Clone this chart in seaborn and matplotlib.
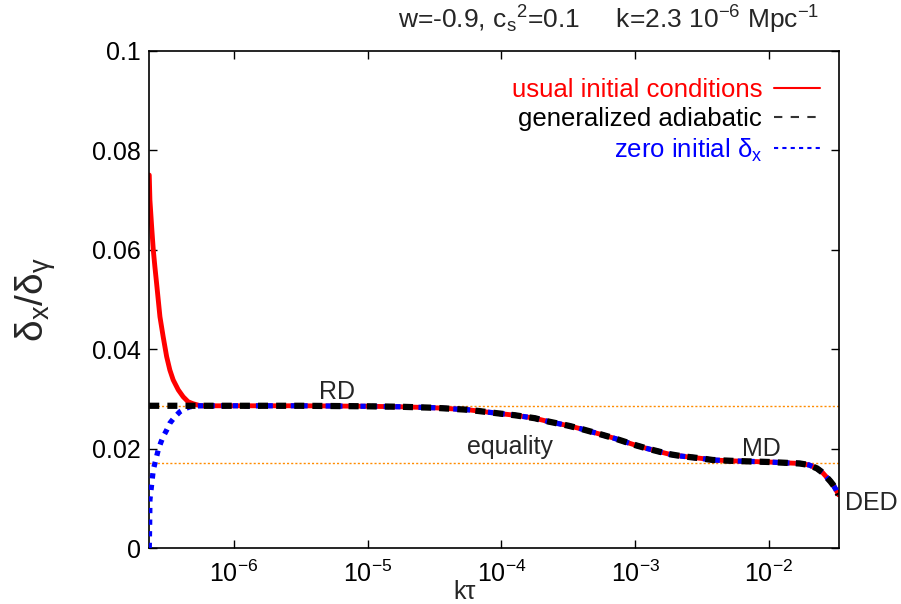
import numpy as np
import pandas as pd
import matplotlib
matplotlib.use("Agg")
import matplotlib.pyplot as plt
from matplotlib.lines import Line2D
import seaborn as sns

# values (x as log10 of k*tau)
main_logx = [-6.25, -6.0, -5.5, -5.0, -4.75, -4.5, -4.25, -4.0, -3.9, -3.75, -3.66,
             -3.5, -3.41, -3.25, -3.16, -3.0, -2.91, -2.75, -2.66, -2.5, -2.42, -2.25,
             -2.0, -1.85, -1.77, -1.70, -1.64, -1.60, -1.57, -1.54, -1.52, -1.50, -1.48]
main_y = [0.0286, 0.0286, 0.0286, 0.0285, 0.0284, 0.0282, 0.0278, 0.0270, 0.0267, 0.0261, 0.0255,
          0.0246, 0.0240, 0.0228, 0.0221, 0.0207, 0.0200, 0.0189, 0.0185, 0.0180, 0.0177, 0.0175,
          0.0173, 0.0171, 0.0170, 0.0167, 0.0160, 0.0152, 0.0143, 0.0134, 0.0127, 0.0118, 0.0107]

red_logx = [-6.633, -6.628, -6.615, -6.603, -6.591, -6.578, -6.553, -6.529, -6.503,
            -6.479, -6.454, -6.416, -6.379, -6.342, -6.304]
red_y = [0.075, 0.070, 0.0646, 0.060, 0.0566, 0.0532, 0.0465, 0.0425, 0.0385,
         0.0358, 0.0338, 0.0318, 0.0304, 0.0294, 0.0290]

blue_logx = [-6.633, -6.630, -6.628, -6.603, -6.590, -6.566, -6.548, -6.529, -6.503,
             -6.479, -6.441, -6.404, -6.366, -6.329]
blue_y = [0.0, 0.0050, 0.0097, 0.0157, 0.0171, 0.0197, 0.0211, 0.0224, 0.0237,
          0.0251, 0.0264, 0.0274, 0.0280, 0.0284]

black_logx = [-6.633]
black_y = [0.0286]

rd_level = 0.0286
md_level = 0.0170

y_ticks = [0, 0.02, 0.04, 0.06, 0.08, 0.1]
y_ticklabels = ["0", "0.02", "0.04", "0.06", "0.08", "0.1"]
x_ticks = [1e-6, 1e-5, 1e-4, 1e-3, 1e-2]
x_ticklabels = ["$10^{-6}$", "$10^{-5}$", "$10^{-4}$", "$10^{-3}$", "$10^{-2}$"]

labels = ["usual initial conditions", "generalized adiabatic", "zero initial $δ_x$"]

sns.set_style("ticks")
plt.rcParams["font.family"] = ["Liberation Sans", "DejaVu Sans"]
plt.rcParams["mathtext.fontset"] = "custom"
plt.rcParams["mathtext.rm"] = "Liberation Sans"
plt.rcParams["mathtext.it"] = "Liberation Sans"
plt.rcParams["mathtext.default"] = "regular"


def series(lx, y):
    lx = list(lx) + main_logx
    y = list(y) + main_y
    return pd.DataFrame({"ktau": np.power(10.0, lx), "delta": y})


red = series(red_logx, red_y)
blue = series(blue_logx, blue_y)
black = series(black_logx, black_y)

fig = plt.figure(figsize=(9.01, 6.04), dpi=100)
ax = fig.add_axes([0.1657, 0.0927, 0.7658, 0.8233])

ax.axhline(rd_level, color="#ff8c00", lw=1.0, ls=(0, (1.5, 1.5)), zorder=1)
ax.axhline(md_level, color="#ff8c00", lw=1.0, ls=(0, (1.5, 1.5)), zorder=1)

sns.lineplot(data=red, x="ktau", y="delta", ax=ax, color="#ff0000", lw=3.5,
             sort=False, zorder=2)
sns.lineplot(data=blue, x="ktau", y="delta", ax=ax, color="#0000ff", lw=3.8,
             linestyle=(0, (1.0, 1.2)), sort=False, zorder=3)
sns.lineplot(data=black, x="ktau", y="delta", ax=ax, color="#000000", lw=4.5,
             linestyle=(0, (1.6, 1.3)), sort=False, zorder=4)

ax.set_xscale("log")
ax.set_xlim(2.33e-7, 3.36e-2)
ax.set_ylim(0, 0.1)
ax.set_xticks(x_ticks)
ax.set_xticklabels(x_ticklabels)
ax.set_yticks(y_ticks)
ax.set_yticklabels(y_ticklabels)
ax.minorticks_off()
ax.tick_params(which="major", direction="in", length=6, width=1, top=True, right=True,
               labelsize=18, colors="black")
ax.tick_params(axis="x", pad=9)
ax.tick_params(axis="y", pad=6)
for s in ax.spines.values():
    s.set_linewidth(1.2)
    s.set_color("black")

ax.set_xlabel("kτ", fontsize=18)
ax.xaxis.set_label_coords(0.4575, -0.065)
ax.set_ylabel("$δ_x/δ_γ$", fontsize=28)
ax.yaxis.set_label_coords(-0.132, 0.5)

ax.text(10**-5.232, 0.0314, "RD", fontsize=18, ha="center", va="center")
ax.text(10**-3.936, 0.0204, "equality", fontsize=18, ha="center", va="center")
ax.text(10**-2.055, 0.0200, "MD", fontsize=18, ha="center", va="center")
ax.text(10**-1.432, 0.0090, "DED", fontsize=18, ha="left", va="center", clip_on=False)

fig.text(609 / 901, 1 - 20 / 604, "w=-0.9, c$_s$$^2$=0.1     k=2.3 10$^{-6}$ Mpc$^{-1}$",
         fontsize=19, ha="center", va="center")

handles = [Line2D([], [], color="#ff0000", lw=1.5),
           Line2D([], [], color="#333333", lw=1.5, ls=(0, (4, 4))),
           Line2D([], [], color="#0000ff", lw=1.5, ls=(0, (2, 2)))]
ax.legend(handles, labels, loc="upper right", bbox_to_anchor=(0.972, 0.945),
          frameon=False, markerfirst=False, fontsize=18.5, borderpad=0, borderaxespad=0,
          handlelength=1.8, handletextpad=0.45, labelspacing=0.2,
          labelcolor=["#ff0000", "#000000", "#0000ff"])

fig.savefig("out.png", dpi=100)
